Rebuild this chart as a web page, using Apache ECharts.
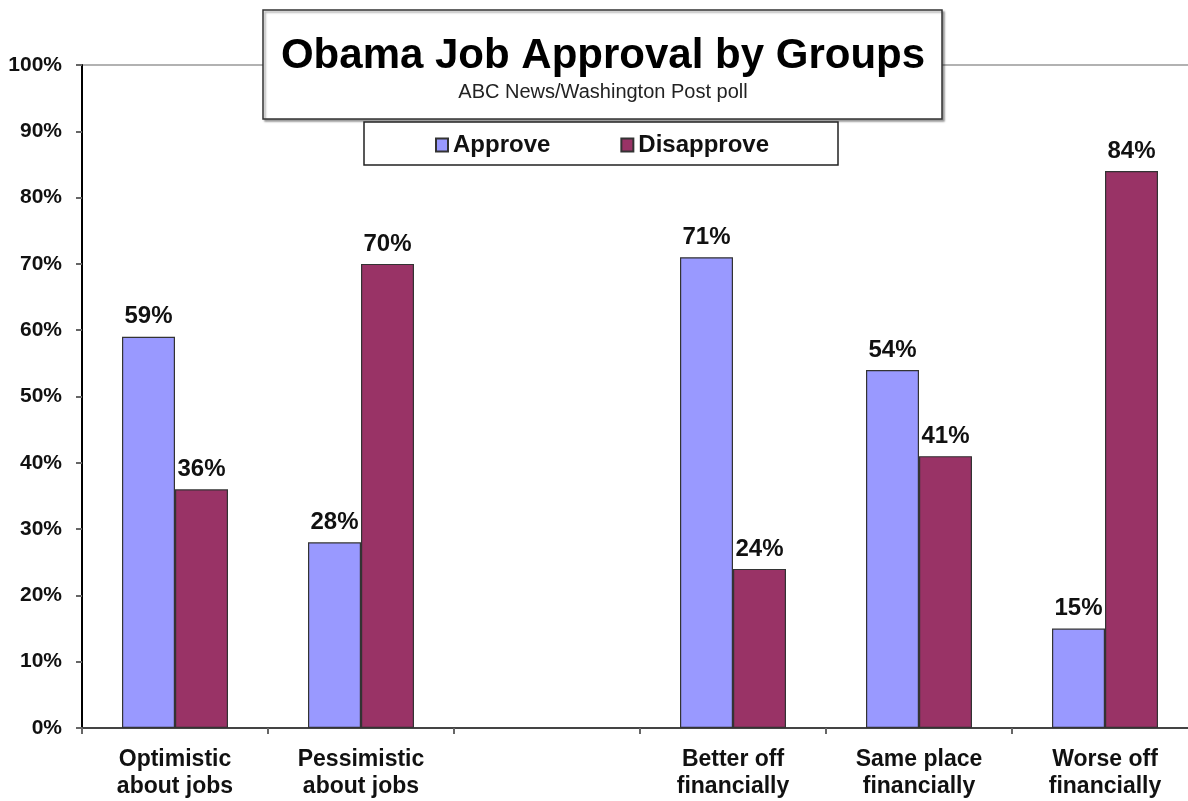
<!DOCTYPE html>
<html>
<head>
<meta charset="utf-8">
<script src="https://cdn.jsdelivr.net/npm/echarts@6/dist/echarts.min.js"></script>
<style>
  html, body { margin: 0; padding: 0; background: #fff; overflow: hidden; }
  /* canvas runs a little past the window so the plot's right edge sits off-screen */
  #chart { width: 1210px; height: 801px; }
</style>
</head>
<body>
<div id="chart"></div>
<script>
// Poll groups; the empty slot separates the jobs groups from the finances groups
const categories = [
  'Optimistic\nabout jobs',
  'Pessimistic\nabout jobs',
  '',
  'Better off\nfinancially',
  'Same place\nfinancially',
  'Worse off\nfinancially'
];
const approve    = [59, 28, null, 71, 54, 15];
const disapprove = [36, 70, null, 24, 41, 84];
const seriesNames = ['Approve', 'Disapprove'];
const yTicks = { min: 0, max: 100, step: 10 };

const FONT = '"Liberation Sans", Arial, Helvetica, sans-serif';
const chart = echarts.init(document.getElementById('chart'), null, { renderer: 'canvas' });

const barLabel = {
  show: true,
  position: 'top',
  distance: 8,
  formatter: p => p.value == null ? '' : p.value + '%',
  fontFamily: FONT,
  fontWeight: 'bold',
  fontSize: 24,
  color: '#111'
};

chart.setOption({
  animation: false,
  backgroundColor: '#fff',
  grid: {
    left: 82, top: 65, width: 1116, bottom: 73,
    show: true, borderColor: '#999', borderWidth: 1.5, backgroundColor: 'transparent'
  },
  graphic: [
    {
      type: 'rect', z: 5,
      shape: { x: 263, y: 10, width: 679, height: 109 },
      style: { fill: '#fff', stroke: '#333', lineWidth: 1.5,
               shadowColor: 'rgba(0,0,0,0.35)', shadowOffsetX: 2, shadowOffsetY: 2, shadowBlur: 2 }
    },
    {
      type: 'text', z: 6, x: 603, y: 56,
      style: { text: 'Obama Job Approval by Groups', font: 'bold 42px ' + FONT,
               fill: '#000', textAlign: 'center', textVerticalAlign: 'middle' }
    },
    {
      type: 'text', z: 6, x: 603, y: 92,
      style: { text: 'ABC News/Washington Post poll', font: '20px ' + FONT,
               fill: '#222', textAlign: 'center', textVerticalAlign: 'middle' }
    },
    {
      type: 'rect', z: 5,
      shape: { x: 364, y: 122, width: 474, height: 43 },
      style: { fill: '#fff', stroke: '#222', lineWidth: 1.5 }
    }
  ],
  legend: {
    z: 10,
    data: seriesNames,
    left: 435, top: 133,
    padding: 0,
    itemWidth: 12, itemHeight: 13, itemGap: 70,
    icon: 'rect',
    textStyle: { fontFamily: FONT, fontWeight: 'bold', fontSize: 24, color: '#111' }
  },
  xAxis: {
    type: 'category',
    data: categories,
    axisLine: { lineStyle: { color: '#444', width: 2 } },
    axisTick: { show: true, inside: false, length: 6, alignWithLabel: false, lineStyle: { color: '#666', width: 2 } },
    axisLabel: {
      interval: 0, margin: 18,
      fontFamily: FONT, fontWeight: 'bold', fontSize: 23, lineHeight: 27, color: '#111'
    },
    splitLine: { show: false }
  },
  yAxis: {
    type: 'value',
    min: yTicks.min, max: yTicks.max, interval: yTicks.step,
    axisLine: { show: true, lineStyle: { color: '#000', width: 2 } },
    axisTick: { show: true, length: 6, lineStyle: { color: '#666', width: 2 } },
    axisLabel: {
      formatter: '{value}%', margin: 20,
      fontFamily: FONT, fontWeight: 'bold', fontSize: 21, color: '#111'
    },
    splitLine: { show: false }
  },
  series: [
    {
      name: seriesNames[0], type: 'bar', data: approve,
      barWidth: 53, barGap: '0%',
      itemStyle: { color: '#9999FF', borderColor: '#333', borderWidth: 1.2 },
      label: barLabel
    },
    {
      name: seriesNames[1], type: 'bar', data: disapprove,
      barWidth: 53, barGap: '0%',
      itemStyle: { color: '#993366', borderColor: '#333', borderWidth: 1.2 },
      label: barLabel
    }
  ]
});
</script>
</body>
</html>
